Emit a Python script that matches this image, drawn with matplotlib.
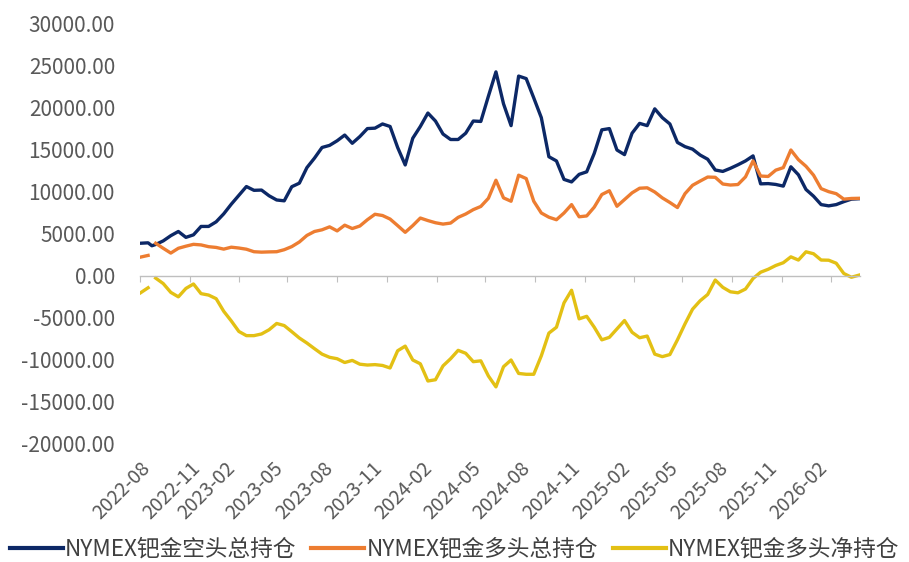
import matplotlib
matplotlib.use("Agg")
import matplotlib.pyplot as plt
import matplotlib.dates as mdates
import numpy as np
import pandas as pd

plt.rcParams['font.family'] = ['Noto Sans CJK SC', 'DejaVu Sans']

# ---- data (biweekly COT readings, one extra date where long/net are missing) ----
base_dates = list(pd.date_range('2022-08-02', periods=96, freq='14D'))
dates = base_dates[:2] + [pd.Timestamp('2022-08-23')] + base_dates[2:]

short_oi = [3900, 3950, 3600, 3750, 4180, 4800, 5300, 4600, 4900, 5900, 5900,
            6450, 7400, 8550, 9600, 10650, 10200, 10230, 9550, 9050, 8950,
            10630, 11050, 12900, 14030, 15300, 15550, 16100, 16780, 15800, 16600,
            17550, 17600, 18100, 17800, 15300, 13220, 16400, 17800, 19400, 18450,
            16900, 16250, 16250, 17000, 18450, 18400, 21400, 24300, 20500, 17900,
            23800, 23500, 21200, 18850, 14200, 13700, 11500, 11200, 12100, 12400,
            14600, 17400, 17550, 15000, 14450, 17000, 18170, 17900, 19900, 18850,
            18100, 15900, 15400, 15100, 14400, 13900, 12620, 12450, 12820, 13240,
            13700, 14300, 10970, 11000, 10900, 10700, 13000, 12050, 10300, 9500,
            8500, 8350, 8500, 8850, 9150, 9200]

long_oi = [2250, 2450, np.nan, 3900, 3300, 2730, 3300, 3550, 3770, 3700, 3490,
           3400, 3200, 3430, 3330, 3190, 2890, 2840, 2870, 2890, 3130,
           3500, 4050, 4830, 5300, 5500, 5850, 5370, 6050, 5650, 5950,
           6700, 7350, 7200, 6780, 6000, 5200, 6000, 6900, 6600, 6340,
           6180, 6300, 6980, 7380, 7900, 8280, 9250, 11400, 9300, 8900,
           12000, 11600, 8900, 7500, 7000, 6700, 7500, 8500, 7050, 7150,
           8200, 9700, 10150, 8300, 9100, 9900, 10450, 10500, 10000, 9300,
           8750, 8150, 9800, 10800, 11300, 11780, 11750, 10950, 10830, 10890,
           11800, 13700, 11900, 11850, 12600, 12900, 15000, 13850, 13060, 12000,
           10400, 10040, 9800, 9150, 9230, 9250]

net_long = [-2000, -1400, np.nan, -250, -900, -1950, -2480, -1480, -950, -2100, -2270,
            -2700, -4200, -5350, -6600, -7100, -7100, -6900, -6400, -5650, -5900,
            -6630, -7380, -7980, -8650, -9300, -9680, -9850, -10300, -10050, -10500,
            -10600, -10550, -10650, -10950, -8900, -8350, -10000, -10450, -12500, -12350,
            -10700, -9850, -8850, -9200, -10200, -10100, -11900, -13200, -10800, -10000,
            -11600, -11700, -11700, -9500, -6800, -6100, -3200, -1700, -5100, -4800,
            -6100, -7600, -7300, -6300, -5300, -6700, -7350, -7150, -9300, -9600,
            -9350, -7600, -5700, -3950, -2950, -2200, -480, -1350, -1880, -2000,
            -1550, -300, 450, 800, 1250, 1580, 2280, 1900, 2880, 2650,
            1900, 1880, 1520, 300, -150, 100]

series_names = ['NYMEX钯金空头总持仓', 'NYMEX钯金多头总持仓', 'NYMEX钯金多头净持仓']
colors = ['#0C2866', '#ED7D31', '#E3C014']
y_ticks = [-20000, -15000, -10000, -5000, 0, 5000, 10000, 15000, 20000, 25000, 30000]

# ---- figure ----
fig = plt.figure(figsize=(9.09, 5.62), dpi=100)
ax = fig.add_axes([140/909, 1-444/562, 720/909, 420/562])

for vals, name, c in zip([short_oi, long_oi, net_long], series_names, colors):
    ax.plot(dates, vals, color=c, lw=2.4, label=name, solid_joinstyle='round')

ax.set_ylim(-20000, 30000)
ax.set_xlim(pd.Timestamp('2022-08-01'), pd.Timestamp('2026-03-26'))
ax.set_yticks(y_ticks)
ax.set_yticklabels([f'{v:.2f}' for v in y_ticks])

for s in ['top', 'right', 'left']:
    ax.spines[s].set_visible(False)
ax.spines['bottom'].set_position(('data', 0))
ax.spines['bottom'].set_color('#BFBFBF')
ax.spines['bottom'].set_linewidth(1.0)

loc = mdates.MonthLocator(bymonth=[2, 5, 8, 11])
ax.xaxis.set_major_locator(loc)
ax.tick_params(axis='x', which='both', direction='out', length=4, color='#BFBFBF',
               labelbottom=False)
ax.tick_params(axis='y', length=0, pad=18, labelsize=15, labelcolor='#595959')

sec = ax.secondary_xaxis('bottom')
sec.xaxis.set_major_locator(mdates.MonthLocator(bymonth=[2, 5, 8, 11]))
sec.xaxis.set_major_formatter(mdates.DateFormatter('%Y-%m'))
sec.spines['bottom'].set_visible(False)
sec.tick_params(axis='x', length=0, pad=10, labelsize=14, labelcolor='#595959')
for lbl in sec.get_xticklabels():
    lbl.set_rotation(45)
    lbl.set_ha('right')
    lbl.set_rotation_mode('anchor')

leg = fig.legend(loc='center', bbox_to_anchor=(0.5, 1-549/562), ncol=3, frameon=False,
                 fontsize=16.3, handlelength=2.35, handletextpad=0.1, columnspacing=0.65,
                 labelcolor='#404040', borderpad=0.2)
for line in leg.get_lines():
    line.set_linewidth(3)

fig.savefig('out.png', dpi=100)
